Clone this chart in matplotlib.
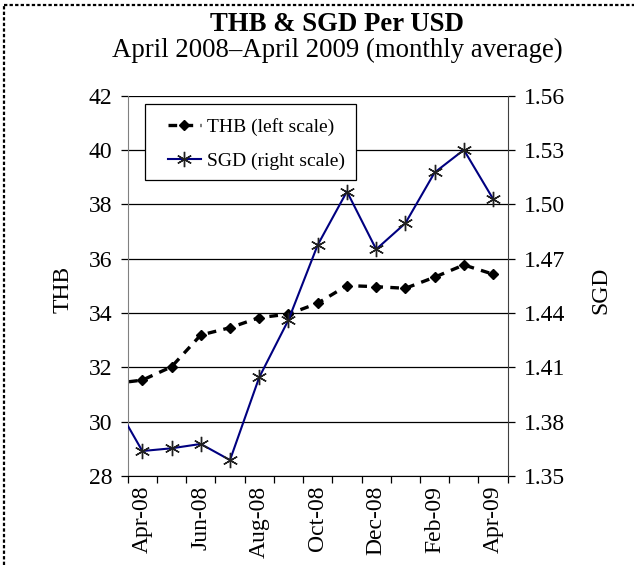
import numpy as np
import matplotlib.pyplot as plt
from matplotlib.lines import Line2D
from matplotlib.patches import Rectangle
from matplotlib.ticker import FixedLocator, NullFormatter

plt.rcParams['font.family'] = ['Liberation Serif', 'DejaVu Serif']

# monthly averages, Mar-08 sits just off the left edge
months = ["Mar-08", "Apr-08", "May-08", "Jun-08", "Jul-08", "Aug-08", "Sep-08",
          "Oct-08", "Nov-08", "Dec-08", "Jan-09", "Feb-09", "Mar-09", "Apr-09"]
thb = [31.40, 31.53, 32.02, 33.19, 33.46, 33.83, 33.96,
       34.36, 35.01, 34.97, 34.91, 35.32, 35.77, 35.43]
sgd = [1.392, 1.3638, 1.3653, 1.3677, 1.3588, 1.4045, 1.4362,
       1.4776, 1.5071, 1.4752, 1.4896, 1.5176, 1.5301, 1.5030]

thb_ticks = [28, 30, 32, 34, 36, 38, 40, 42]
sgd_ticks = [1.35, 1.38, 1.41, 1.44, 1.47, 1.50, 1.53, 1.56]

x = np.arange(len(months)) - 1

fig = plt.figure(figsize=(6.34, 5.65), dpi=100)
ax = fig.add_axes([0.2014, 0.1575, 0.5994, 0.6731])
ax2 = ax.twinx()

# left scale
ax.set_ylim(28, 42)
ax.set_yticks(thb_ticks)
ax.set_yticklabels([str(v) for v in thb_ticks])
ax.yaxis.grid(True, color='black', linewidth=0.9)
ax.set_axisbelow(True)
ax.set_xlim(-0.5, 12.5)

# category boundaries get ticks, labels go every other month at the centers
ax.xaxis.set_major_locator(FixedLocator(np.arange(-0.5, 13, 1)))
ax.xaxis.set_major_formatter(NullFormatter())
lab_pos = list(range(0, 13, 2))
ax.xaxis.set_minor_locator(FixedLocator(lab_pos))
ax.set_xticklabels([months[i + 1] for i in lab_pos], minor=True, rotation=90, fontsize=17)
ax.tick_params(axis='x', which='major', direction='out', length=5, width=0.9)
ax.tick_params(axis='x', which='minor', length=0, pad=7)
ax.tick_params(axis='y', direction='out', length=5, width=0.9, labelsize=17, pad=6)

for s in ['top', 'right']:
    ax.spines[s].set_visible(False)
ax.spines['left'].set_color('#808080')
ax.spines['bottom'].set_color('black')

l1, = ax.plot(x, thb, color='black', linestyle=(0, (2.6, 2.2)), linewidth=2.4,
              marker='D', markersize=5.5, markerfacecolor='black', markeredgecolor='black')

# right scale
ax2.set_ylim(1.35, 1.56)
ax2.set_yticks(sgd_ticks)
ax2.set_yticklabels([f"{v:.2f}" for v in sgd_ticks])
ax2.tick_params(axis='y', direction='out', length=5, width=0.9, labelsize=17, pad=7)
for s in ['top', 'left', 'bottom']:
    ax2.spines[s].set_visible(False)
ax2.spines['right'].set_color('#404040')

l2, = ax2.plot(x, sgd, color='#000080', linewidth=1.5,
               marker=(6, 2, 0), markersize=11, markeredgecolor='#202020',
               markeredgewidth=1.0)

fig.text(63 / 634, 0.487, 'THB', rotation=90, ha='center', va='center', fontsize=17)
fig.text(601 / 634, 0.487, 'SGD', rotation=90, ha='center', va='center', fontsize=17)

# legend box drawn by hand, entries placed inside it
ax2.add_patch(Rectangle((0.0455, 0.778), 0.5553, 0.2, transform=ax2.transAxes,
                        facecolor='white', edgecolor='black', linewidth=0.9,
                        zorder=5, clip_on=False))
leg = ax2.legend([l1, l2], ['THB (left scale)', 'SGD (right scale)'],
                 loc='center left', bbox_to_anchor=(0.106, 0.873), fontsize=14,
                 frameon=False, borderpad=0, borderaxespad=0, handlelength=1.7,
                 handletextpad=0.3, labelspacing=0.85)
leg.set_zorder(6)

fig.text(337 / 634, 1 - 31 / 565, 'THB & SGD Per USD', ha='center', va='baseline',
         fontsize=19.3, fontweight='bold')
fig.text(337 / 634, 1 - 57 / 565, 'April 2008\u2013April 2009 (monthly average)',
         ha='center', va='baseline', fontsize=19.3)

# dashed border along the top and left edges
fig.add_artist(Line2D([0.007, 1.0], [0.992, 0.992], transform=fig.transFigure,
                      color='black', linestyle=(0, (1.5, 1)), linewidth=1.6))
fig.add_artist(Line2D([0.007, 0.007], [0.0, 0.992], transform=fig.transFigure,
                      color='black', linestyle=(0, (1.5, 1)), linewidth=1.6))

fig.savefig('out.png', dpi=100)
